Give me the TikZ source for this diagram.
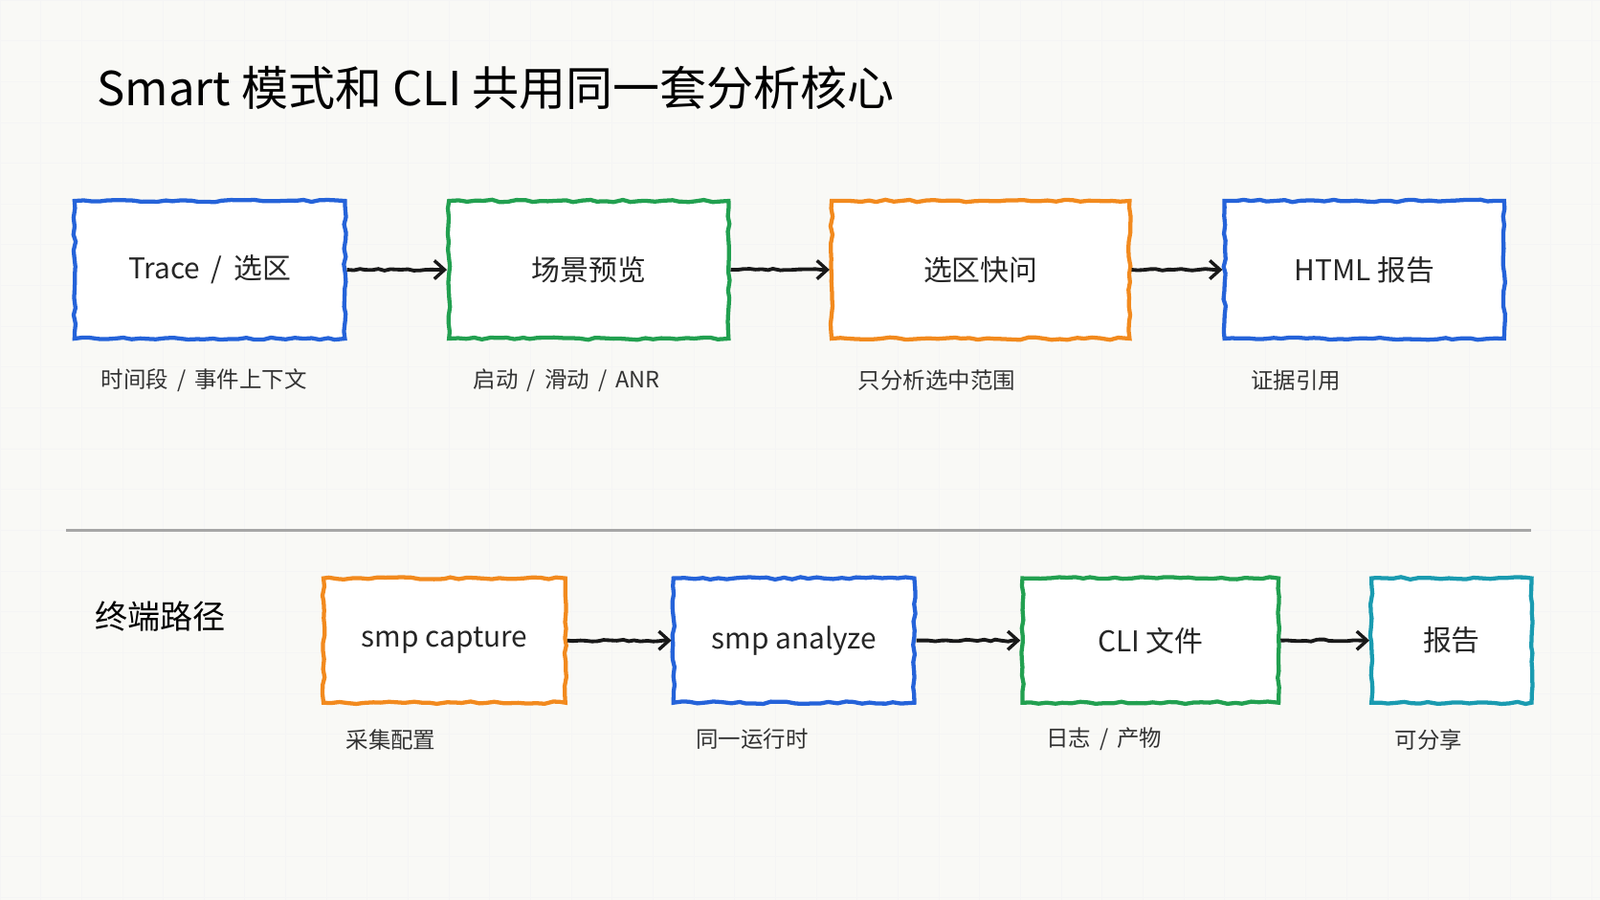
\documentclass[tikz,border=0pt]{standalone}
\usepackage{fontspec}
\setmainfont{Noto Sans CJK SC}
\usetikzlibrary{decorations.pathmorphing,arrows.meta}
\definecolor{bluebox}{HTML}{2563D9}
\definecolor{greenbox}{HTML}{22A050}
\definecolor{orangebox}{HTML}{F28A1E}
\definecolor{tealbox}{HTML}{1A9BB0}
\definecolor{paper}{HTML}{F9F9F6}
\tikzset{
  box/.style={draw=#1, line width=2pt, fill=white,
    decorate, decoration={random steps, segment length=4pt, amplitude=0.6pt},
    font=\fontsize{14}{16}\selectfont, text=black!85},
  note/.style={anchor=west, font=\fontsize{11}{13}\selectfont, text=black!80},
  flow/.style={line width=1.8pt, black!90, -{Straight Barb[length=5pt,width=9pt,line width=1.6pt]},
    decorate, decoration={random steps, segment length=3pt, amplitude=0.5pt, post length=4pt}}
}
\begin{document}
\begin{tikzpicture}[x=0.5pt,y=-0.5pt]
\fill[paper] (0,0) rectangle (1568,882);
\useasboundingbox (0,0) rectangle (1568,882);
\foreach \gx in {0,40,...,1560} \draw[black!4] (\gx,0) -- (\gx,882);
\foreach \gy in {0,40,...,880} \draw[black!4] (0,\gy) -- (1568,\gy);

\node[anchor=base west, font=\fontsize{23}{26}\selectfont] (title) at (88,104) {Smart 模式和 CLI 共用同一套分析核心};

% top row
\node[box=bluebox, minimum width=132.5pt, minimum height=67.5pt] (trace) at (205.5,264.5) {Trace \,/\, 选区};
\node[box=greenbox, minimum width=137pt, minimum height=67.5pt] (scene) at (577,264.5) {场景预览};
\node[box=orangebox, minimum width=146pt, minimum height=67.5pt] (ask) at (961,264.5) {选区快问};
\node[box=bluebox, minimum width=137pt, minimum height=67.5pt] (html) at (1337,264.5) {HTML 报告};
\draw[flow] (trace) -- (scene);
\draw[flow] (scene) -- (ask);
\draw[flow] (ask) -- (html);
\node[note] (n1) at (92,373) {时间段 \,/\, 事件上下文};
\node[note] (n2) at (457,373) {启动 \,/\, 滑动 \,/\, ANR};
\node[note] (n3) at (834,373) {只分析选中范围};
\node[note] (n4) at (1219,373) {证据引用};

\coordinate (divl) at (65,520);
\coordinate (divr) at (1500,520);
\draw[black!35, line width=1pt] (divl) -- (divr);

% bottom row
\node[anchor=west, font=\fontsize{16}{18}\selectfont] (term) at (86,604) {终端路径};
\node[box=orangebox, minimum width=118.5pt, minimum height=61pt] (cap) at (435.5,628) {smp capture};
\node[box=bluebox, minimum width=118pt, minimum height=61pt] (ana) at (778,628) {smp analyze};
\node[box=greenbox, minimum width=125.5pt, minimum height=61pt] (cli) at (1127.5,628) {CLI 文件};
\node[box=tealbox, minimum width=78.5pt, minimum height=61pt] (rep) at (1422.5,628) {报告};
\draw[flow] (cap) -- (ana);
\draw[flow] (ana) -- (cli);
\draw[flow] (cli) -- (rep);
\node[note] (m1) at (332,725) {采集配置};
\node[note] (m2) at (675,725) {同一运行时};
\node[note] (m3) at (1018,725) {日志 \,/\, 产物};
\node[note] (m4) at (1360,725) {可分享};
\end{tikzpicture}
\end{document}
